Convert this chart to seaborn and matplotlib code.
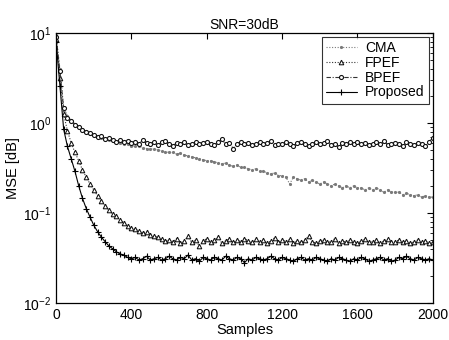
import numpy as np
import pandas as pd
import seaborn as sns
import matplotlib.pyplot as plt
from matplotlib.ticker import LogLocator, NullFormatter

samples = np.arange(0, 2001, 20)

proposed = [8.0, 2.6, 0.85, 0.55, 0.40, 0.29, 0.20, 0.145, 0.112, 0.09,
            0.073, 0.062, 0.054, 0.048, 0.043, 0.040, 0.037, 0.035, 0.034, 0.032,
            0.031,
            0.032, 0.030, 0.031, 0.033, 0.030, 0.031, 0.032, 0.030, 0.031, 0.033,
            0.031, 0.030, 0.032, 0.031, 0.034, 0.030, 0.031, 0.029, 0.032, 0.031,
            0.030, 0.032, 0.031, 0.030, 0.033, 0.031, 0.030, 0.032, 0.031, 0.028,
            0.031, 0.030, 0.032, 0.031, 0.030, 0.031, 0.033, 0.031, 0.030, 0.032,
            0.031, 0.030, 0.029, 0.031, 0.032, 0.030, 0.031, 0.030, 0.032, 0.031,
            0.030, 0.029, 0.031, 0.030, 0.032, 0.031, 0.030, 0.029, 0.031, 0.030,
            0.032, 0.031, 0.029, 0.030, 0.031, 0.032, 0.030, 0.031, 0.029, 0.030,
            0.032, 0.031, 0.033, 0.031, 0.030, 0.032, 0.031, 0.030, 0.031, 0.030]

fpef = [8.5, 3.2, 1.25, 0.82, 0.6, 0.47, 0.38, 0.30, 0.25, 0.21,
        0.18, 0.155, 0.135, 0.12, 0.108, 0.098, 0.092, 0.084, 0.078, 0.072,
        0.068,
        0.066, 0.063, 0.060, 0.062, 0.057, 0.055, 0.054, 0.051, 0.049, 0.050,
        0.048, 0.052, 0.046, 0.049, 0.055, 0.047, 0.050, 0.043, 0.049, 0.052,
        0.047, 0.050, 0.054, 0.046, 0.049, 0.051, 0.047, 0.050, 0.048, 0.052,
        0.049, 0.047, 0.051, 0.048, 0.050, 0.046, 0.049, 0.053, 0.047, 0.050,
        0.048, 0.051, 0.046, 0.049, 0.047, 0.050, 0.055, 0.048, 0.046, 0.049,
        0.050, 0.047, 0.048, 0.052, 0.046, 0.049, 0.047, 0.050, 0.048, 0.046,
        0.049, 0.051, 0.047, 0.048, 0.050, 0.046, 0.049, 0.051, 0.047, 0.048,
        0.050, 0.047, 0.049, 0.046, 0.048, 0.050, 0.047, 0.049, 0.046, 0.047]

bpef = [9.0, 3.8, 1.45, 1.15, 1.05, 0.96, 0.9, 0.84, 0.8, 0.77,
        0.74, 0.7, 0.72, 0.66, 0.68, 0.64, 0.62, 0.65, 0.61, 0.63,
        0.60,
        0.62, 0.59, 0.64, 0.60, 0.58, 0.62, 0.57, 0.61, 0.63, 0.59,
        0.56, 0.60, 0.58, 0.62, 0.57, 0.59, 0.61, 0.58, 0.60, 0.62,
        0.59, 0.57, 0.61, 0.66, 0.58, 0.60, 0.52, 0.59, 0.61, 0.58,
        0.60, 0.57, 0.59, 0.62, 0.58, 0.60, 0.63, 0.57, 0.59, 0.58,
        0.61, 0.59, 0.56, 0.60, 0.62, 0.58, 0.55, 0.59, 0.61, 0.58,
        0.60, 0.63, 0.57, 0.59, 0.54, 0.60, 0.58, 0.61, 0.59, 0.62,
        0.58, 0.60, 0.57, 0.59, 0.61, 0.58, 0.63, 0.57, 0.59, 0.60,
        0.58, 0.56, 0.61, 0.59, 0.57, 0.60, 0.58, 0.55, 0.62, 0.68]

cma = [9.5, 4.0, 1.5, 1.2, 1.08, 0.98, 0.92, 0.86, 0.81, 0.76,
       0.73, 0.71, 0.68, 0.67, 0.65, 0.63, 0.62, 0.6, 0.59, 0.58,
       0.56,
       0.55, 0.56, 0.53, 0.52, 0.51, 0.52, 0.50, 0.49, 0.48, 0.47,
       0.47, 0.45, 0.46, 0.44, 0.43, 0.42, 0.41, 0.40, 0.39, 0.38,
       0.38, 0.37, 0.36, 0.35, 0.36, 0.34, 0.33, 0.34, 0.32, 0.32,
       0.31, 0.30, 0.31, 0.29, 0.29, 0.28, 0.27, 0.28, 0.26, 0.26,
       0.25, 0.21, 0.25, 0.24, 0.23, 0.24, 0.22, 0.23, 0.22, 0.21,
       0.22, 0.21, 0.20, 0.21, 0.20, 0.19, 0.20, 0.19, 0.20, 0.19,
       0.19, 0.18, 0.19, 0.18, 0.19, 0.18, 0.17, 0.18, 0.17, 0.17,
       0.17, 0.16, 0.165, 0.16, 0.155, 0.16, 0.15, 0.155, 0.15, 0.15]

sns.set_style("white")
plt.rcParams['font.family'] = ['Liberation Sans', 'DejaVu Sans']
plt.rcParams.update({"text.color": "black", "axes.labelcolor": "black",
                     "xtick.color": "black", "ytick.color": "black"})

fig = plt.figure(figsize=(4.49, 3.40), dpi=100)
ax = fig.add_axes([0.125, 0.109, 0.839, 0.794])

styles = [
    ("CMA", cma, dict(color="#7a7a7a", linestyle=(0, (1, 1.5)), marker=".", markersize=3,
                      markerfacecolor="#7a7a7a", markeredgecolor="#7a7a7a")),
    ("FPEF", fpef, dict(color="#333333", linestyle=(0, (1, 1.5)), marker="^", markersize=3.3,
                        markerfacecolor="white", markeredgecolor="#111111", markeredgewidth=0.75)),
    ("BPEF", bpef, dict(color="#333333", linestyle=(0, (4, 1.5, 1, 1.5)), marker="o", markersize=2.9,
                        markerfacecolor="white", markeredgecolor="#111111", markeredgewidth=0.8)),
    ("Proposed", proposed, dict(color="black", linestyle="-", marker="+", markersize=5,
                                markeredgecolor="black", markeredgewidth=0.8)),
]
for name, vals, kw in styles:
    df = pd.DataFrame({"Samples": samples, "MSE": vals})
    sns.lineplot(data=df, x="Samples", y="MSE", ax=ax, label=name, linewidth=0.8)
    ax.lines[-1].set(**kw)

ax.set_yscale("log")
ax.set_xlim(0, 2000)
ax.set_ylim(1e-2, 1e1)
ax.set_xticks([0, 400, 800, 1200, 1600, 2000])
ax.yaxis.set_major_locator(LogLocator(base=10, numticks=10))
ax.yaxis.set_minor_locator(LogLocator(base=10, subs=np.arange(2, 10), numticks=20))
ax.yaxis.set_minor_formatter(NullFormatter())
ax.tick_params(which="both", direction="in", top=True, right=True, labelsize=10, color="black")
ax.tick_params(which="major", length=4)
ax.tick_params(which="minor", length=2)
for s in ax.spines.values():
    s.set_color("black")
    s.set_linewidth(0.9)

ax.set_title("SNR=30dB", fontsize=10, pad=3)
ax.set_xlabel("Samples", fontsize=10.5, labelpad=1)
ax.set_ylabel("MSE [dB]", fontsize=10.5, labelpad=2)

leg = ax.legend(loc="upper right", fontsize=10, frameon=True, fancybox=False,
                borderaxespad=0.3, handlelength=2.2, labelspacing=0.05,
                borderpad=0.3, handletextpad=0.6)
leg.get_frame().set_edgecolor("black")
leg.get_frame().set_linewidth(0.8)

fig.savefig("out.png", dpi=100)
